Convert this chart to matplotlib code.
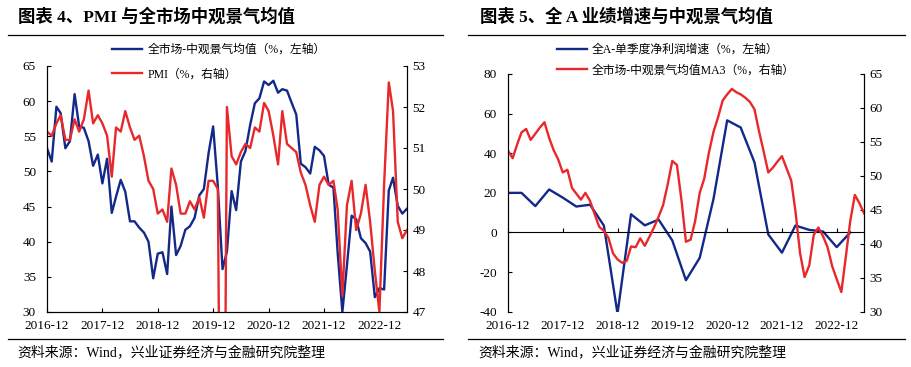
import matplotlib
matplotlib.use('Agg')
import matplotlib.pyplot as plt
import matplotlib.dates as mdates
from matplotlib.lines import Line2D
import pandas as pd

plt.rcParams['font.family'] = ['Liberation Serif', 'Noto Sans CJK SC']
plt.rcParams['axes.unicode_minus'] = False

# 月度：2016-12 ~ 2023-06
months = pd.date_range('2016-12-01', '2023-06-01', freq='MS')
# 季度：2016-12 ~ 2023-03
quarters = pd.date_range('2016-12-01', '2023-03-01', freq='3MS')
year_ticks = pd.date_range('2016-12-01', '2022-12-01', freq='12MS')

meso_avg = [53.3, 51.4, 59.2, 58.3, 53.3, 54.3, 61.0, 56.4, 56.2, 54.3, 50.8, 52.4,
            48.3, 51.8, 44.1, 46.4, 48.8, 47.1, 42.9, 42.9, 42.0, 41.3, 40.0, 34.8,
            38.3, 38.5, 35.4, 45.0, 38.1, 39.4, 41.7, 42.2, 43.4, 46.6, 47.5, 52.6,
            56.4, 47.9, 36.1, 38.6, 47.2, 44.5, 51.4, 52.9, 56.6, 59.7, 60.4, 62.8,
            62.3, 62.9, 61.2, 61.7, 61.5, 59.8, 58.1, 51.1, 50.6, 49.7, 53.5, 53.0,
            52.2, 48.1, 47.7, 38.4, 30.0, 36.6, 43.7, 43.2, 40.5, 39.8, 38.6, 32.1,
            33.4, 33.2, 47.3, 49.1, 45.1, 44.0, 44.7]

pmi = [51.4, 51.3, 51.6, 51.8, 51.2, 51.2, 51.7, 51.4, 51.7, 52.4, 51.6, 51.8,
       51.6, 51.3, 50.3, 51.5, 51.4, 51.9, 51.5, 51.2, 51.3, 50.8, 50.2, 50.0,
       49.4, 49.5, 49.2, 50.5, 50.1, 49.4, 49.4, 49.7, 49.5, 49.8, 49.3, 50.2,
       50.2, 50.0, 35.7, 52.0, 50.8, 50.6, 50.9, 51.1, 51.0, 51.5, 51.4, 52.1,
       51.9, 51.3, 50.6, 51.9, 51.1, 51.0, 50.9, 50.4, 50.1, 49.6, 49.2, 50.1,
       50.3, 50.1, 50.2, 49.5, 47.4, 49.6, 50.2, 49.0, 49.4, 50.1, 49.2, 48.0,
       47.0, 50.1, 52.6, 51.9, 49.2, 48.8, 49.0]

profit_growth = [20.0, 20.0, 13.3, 21.7, 17.6, 13.1, 14.0, 3.5, -41.0, 9.2, 3.6, 6.5,
                 -4.0, -24.1, -12.8, 17.0, 56.6, 53.0, 35.4, -1.0, -10.2, 3.5, 1.3, 0.5,
                 -7.4, 0.0]

meso_ma3 = [53.7, 52.6, 54.7, 56.4, 56.9, 55.3, 56.2, 57.1, 57.9, 55.6, 53.8, 52.4,
            50.5, 50.9, 48.2, 47.4, 46.5, 47.5, 46.3, 44.4, 42.5, 41.9, 40.9, 38.6,
            37.7, 37.2, 37.5, 39.6, 39.5, 40.8, 39.7, 41.0, 42.4, 44.0, 45.7, 48.8,
            52.2, 51.6, 46.3, 40.3, 40.6, 43.3, 47.5, 49.6, 53.4, 56.5, 58.6, 61.1,
            62.0, 62.8, 62.3, 62.0, 61.5, 60.9, 59.8, 56.6, 53.6, 50.5, 51.2, 52.1,
            52.9, 51.1, 49.3, 44.8, 38.6, 35.1, 36.8, 41.3, 42.4, 41.1, 39.5, 36.7,
            34.8, 32.9, 38.3, 43.3, 47.2, 46.0, 44.5]

blue = '#12298A'
red = '#E8282B'
W, H = 911, 367

fig = plt.figure(figsize=(W / 100, H / 100), dpi=100)


def fx(px):
    return px / W


def fy(py):
    return 1 - py / H


def style_axis(ax, twin):
    for a in (ax, twin):
        a.spines['top'].set_visible(False)
        for s in a.spines.values():
            s.set_linewidth(0.8)
    ax.tick_params(axis='y', direction='in', length=3, pad=8, labelsize=9.5)
    twin.tick_params(axis='y', direction='in', length=3, pad=4, labelsize=9.5)
    ax.set_xlim(months[0], months[-1])
    ax.set_xticks(year_ticks)
    ax.xaxis.set_major_formatter(mdates.DateFormatter('%Y-%m'))


# ---- 图表4 ----
ax1 = fig.add_axes([fx(47), fy(312), fx(407 - 47), (312 - 66) / H])
ax2 = ax1.twinx()
ax1.plot(months, meso_avg, color=blue, lw=1.7, label='全市场-中观景气均值（%，左轴）')
ax2.plot(months, pmi, color=red, lw=1.7, label='PMI（%，右轴）')
ax1.set_ylim(30, 65)
ax1.set_yticks(range(30, 66, 5))
ax2.set_ylim(47, 53)
ax2.set_yticks(range(47, 54))
style_axis(ax1, ax2)
ax1.tick_params(axis='x', direction='in', length=3, pad=6, labelsize=9.5)

h1, l1 = ax1.get_legend_handles_labels()
h2, l2 = ax2.get_legend_handles_labels()
fig.legend(h1 + h2, l1 + l2, loc='upper left', bbox_to_anchor=(fx(112), fy(44)),
           frameon=False, borderpad=0, borderaxespad=0, fontsize=8.5,
           handlelength=2.5, handletextpad=0.5, labelspacing=1.05)

# ---- 图表5 ----
ax3 = fig.add_axes([fx(508), fy(311.7), fx(864 - 508), (311.7 - 74) / H])
ax4 = ax3.twinx()
ax3.plot(quarters, profit_growth, color=blue, lw=1.7, label='全A-单季度净利润增速（%，左轴）')
ax4.plot(months, meso_ma3, color=red, lw=1.7, label='全市场-中观景气均值MA3（%，右轴）')
ax3.set_ylim(-40, 80)
ax3.set_yticks(range(-40, 81, 20))
ax4.set_ylim(30, 65)
ax4.set_yticks(range(30, 66, 5))
style_axis(ax3, ax4)
ax3.spines['bottom'].set_position(('data', 0))
ax4.spines['bottom'].set_visible(False)
ax3.tick_params(axis='x', direction='in', length=3, pad=63, labelsize=9.5)

h3, l3 = ax3.get_legend_handles_labels()
h4, l4 = ax4.get_legend_handles_labels()
fig.legend(h3 + h4, l3 + l4, loc='upper left', bbox_to_anchor=(fx(557), fy(44)),
           frameon=False, borderpad=0, borderaxespad=0, fontsize=8.5,
           handlelength=2.5, handletextpad=0.4, labelspacing=0.7)

# ---- 标题、分隔线、来源 ----
fig.text(fx(18), fy(17), '图表 4、PMI 与全市场中观景气均值', fontsize=12.5,
         fontweight='heavy', va='center', ha='left')
fig.text(fx(480), fy(17), '图表 5、全 A 业绩增速与中观景气均值', fontsize=12.5,
         fontweight='heavy', va='center', ha='left')
for x0, x1 in [(8, 443), (468, 905)]:
    for yy in (35, 339):
        fig.add_artist(Line2D([fx(x0), fx(x1)], [fy(yy), fy(yy)], color='black', lw=0.9))
fig.text(fx(17), fy(353), '资料来源：Wind，兴业证券经济与金融研究院整理', fontsize=10,
         va='center', ha='left')
fig.text(fx(478), fy(353), '资料来源：Wind，兴业证券经济与金融研究院整理', fontsize=10,
         va='center', ha='left')

fig.savefig('out.png', dpi=100)
